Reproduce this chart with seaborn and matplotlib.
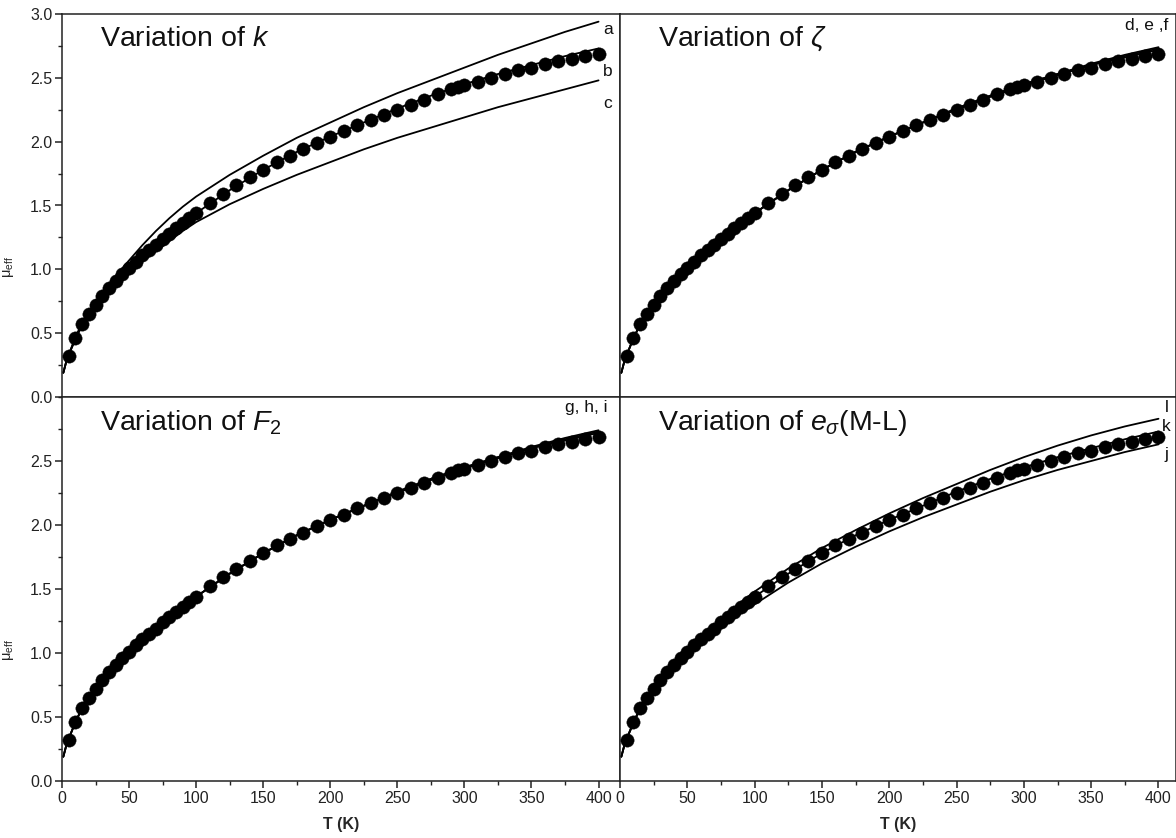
import numpy as np
import pandas as pd
import matplotlib
matplotlib.use("Agg")
import matplotlib.pyplot as plt
from matplotlib.ticker import MultipleLocator
import seaborn as sns

# Measured effective magnetic moment vs temperature
T_obs = [5, 10, 15, 20, 25, 30, 35, 40, 45, 50, 55, 60, 65, 70, 75, 80, 85, 90, 95, 100,
         110, 120, 130, 140, 150, 160, 170, 180, 190, 200, 210, 220, 230, 240, 250,
         260, 270, 280, 290, 295, 300, 310, 320, 330, 340, 350, 360, 370, 380, 390, 400]
mu_obs = [0.32, 0.46, 0.57, 0.65, 0.72, 0.79, 0.85, 0.91, 0.96, 1.01, 1.06, 1.11, 1.15, 1.19,
          1.24, 1.28, 1.32, 1.36, 1.40, 1.44, 1.52, 1.59, 1.66, 1.72, 1.78, 1.84, 1.89, 1.94,
          1.99, 2.04, 2.08, 2.13, 2.17, 2.21, 2.25, 2.29, 2.33, 2.37, 2.41, 2.43, 2.44, 2.47,
          2.50, 2.53, 2.56, 2.58, 2.61, 2.63, 2.65, 2.67, 2.69]

# Calculated curves
T_fit = [1, 3, 5, 10, 15, 20, 30, 40, 50, 60, 70, 80, 90, 100, 125, 150, 175, 200,
         225, 250, 275, 300, 325, 350, 375, 400]
fit_a = [0.19, 0.27, 0.33, 0.47, 0.58, 0.67, 0.82, 0.95, 1.07, 1.19, 1.30, 1.40, 1.49, 1.57,
         1.74, 1.89, 2.03, 2.15, 2.27, 2.38, 2.48, 2.58, 2.68, 2.77, 2.86, 2.94]
fit_b = [0.19, 0.27, 0.33, 0.46, 0.57, 0.65, 0.79, 0.91, 1.01, 1.11, 1.20, 1.28, 1.36, 1.44,
         1.62, 1.78, 1.92, 2.04, 2.15, 2.26, 2.36, 2.45, 2.53, 2.60, 2.67, 2.73]
fit_c = [0.19, 0.27, 0.33, 0.45, 0.56, 0.63, 0.77, 0.88, 0.97, 1.06, 1.14, 1.22, 1.30, 1.37,
         1.51, 1.63, 1.74, 1.84, 1.94, 2.03, 2.11, 2.19, 2.27, 2.34, 2.41, 2.48]
fit_d = [0.19, 0.27, 0.33, 0.46, 0.57, 0.65, 0.79, 0.91, 1.01, 1.11, 1.20, 1.28, 1.36, 1.44,
         1.62, 1.78, 1.92, 2.04, 2.15, 2.26, 2.36, 2.45, 2.53, 2.60, 2.67, 2.73]
fit_e = [0.19, 0.27, 0.33, 0.46, 0.57, 0.65, 0.79, 0.91, 1.01, 1.11, 1.20, 1.28, 1.36, 1.44,
         1.62, 1.78, 1.92, 2.04, 2.15, 2.26, 2.36, 2.45, 2.53, 2.61, 2.68, 2.74]
fit_f = [0.19, 0.27, 0.33, 0.46, 0.57, 0.65, 0.79, 0.91, 1.01, 1.11, 1.20, 1.28, 1.36, 1.44,
         1.62, 1.78, 1.92, 2.04, 2.15, 2.25, 2.35, 2.44, 2.52, 2.60, 2.66, 2.72]
fit_g = [0.19, 0.27, 0.33, 0.46, 0.57, 0.65, 0.79, 0.91, 1.01, 1.11, 1.20, 1.28, 1.36, 1.44,
         1.62, 1.78, 1.92, 2.04, 2.15, 2.26, 2.36, 2.45, 2.53, 2.60, 2.67, 2.73]
fit_h = [0.19, 0.27, 0.33, 0.46, 0.57, 0.65, 0.79, 0.91, 1.01, 1.11, 1.20, 1.28, 1.36, 1.44,
         1.62, 1.78, 1.92, 2.04, 2.15, 2.26, 2.36, 2.45, 2.53, 2.61, 2.68, 2.74]
fit_i = [0.19, 0.27, 0.33, 0.46, 0.57, 0.65, 0.79, 0.91, 1.01, 1.11, 1.20, 1.28, 1.36, 1.44,
         1.62, 1.78, 1.92, 2.04, 2.15, 2.25, 2.35, 2.44, 2.52, 2.60, 2.66, 2.72]
fit_j = [0.19, 0.27, 0.33, 0.45, 0.56, 0.64, 0.77, 0.88, 0.98, 1.07, 1.15, 1.23, 1.31, 1.38,
         1.55, 1.70, 1.83, 1.95, 2.06, 2.16, 2.26, 2.35, 2.43, 2.50, 2.57, 2.63]
fit_k = [0.19, 0.27, 0.33, 0.46, 0.57, 0.65, 0.79, 0.91, 1.01, 1.11, 1.20, 1.28, 1.36, 1.44,
         1.62, 1.78, 1.92, 2.04, 2.15, 2.26, 2.36, 2.45, 2.53, 2.60, 2.67, 2.73]
fit_l = [0.19, 0.27, 0.33, 0.46, 0.57, 0.66, 0.80, 0.93, 1.03, 1.13, 1.22, 1.31, 1.40, 1.48,
         1.66, 1.82, 1.96, 2.09, 2.21, 2.32, 2.43, 2.53, 2.62, 2.70, 2.77, 2.83]

titles = ["Variation of $k$", "Variation of $\\zeta$",
          "Variation of $F_2$", "Variation of $e_{\\sigma}$(M-L)"]
curve_sets = [[fit_a, fit_b, fit_c], [fit_d, fit_e, fit_f],
              [fit_g, fit_h, fit_i], [fit_j, fit_k, fit_l]]
# curve tags: (text, x, y)
tags = [[("a", 407, 2.88), ("b", 407, 2.55), ("c", 407, 2.30)],
        [("d, e ,f", 391, 2.91)],
        [("g, h, i", 391, 2.92)],
        [("l", 406, 2.92), ("k", 406, 2.77), ("j", 406, 2.55)]]

sns.set_style("ticks")
plt.rcParams["font.family"] = ["Liberation Sans", "DejaVu Sans"]
plt.rcParams["mathtext.fontset"] = "custom"
plt.rcParams["mathtext.rm"] = "Liberation Sans"
plt.rcParams["mathtext.it"] = "Liberation Sans:italic"
plt.rcParams["mathtext.bf"] = "Liberation Sans:bold"

W, H = 1176, 838
fig = plt.figure(figsize=(W / 100, H / 100), dpi=100)

x0, xm, x1 = 62, 620, 1176
y0, ym, y1 = 14, 397, 781
boxes = [(x0, y0, xm, ym), (xm, y0, x1, ym), (x0, ym, xm, y1), (xm, ym, x1, y1)]

obs = pd.DataFrame({"T": T_obs, "mu": mu_obs})

for idx, (l, t, r, b) in enumerate(boxes):
    ax = fig.add_axes([l / W, 1 - b / H, (r - l) / W, (b - t) / H])
    for curve in curve_sets[idx]:
        df = pd.DataFrame({"T": T_fit, "mu": curve})
        sns.lineplot(data=df, x="T", y="mu", ax=ax, color="black", linewidth=1.3,
                     estimator=None, sort=False, zorder=2)
    sns.scatterplot(data=obs, x="T", y="mu", ax=ax, color="black", s=92,
                    edgecolor="black", linewidth=0.3, zorder=3)

    xmax = 416 if idx in (0, 2) else 413
    ax.set_xlim(0, xmax)
    ax.set_ylim(0, 3.0)
    ax.set_xlabel("")
    ax.set_ylabel("")

    for sp in ax.spines.values():
        sp.set_linewidth(1.1)
        sp.set_color("#222222")

    left_col = idx in (0, 2)
    bottom_row = idx in (2, 3)

    ax.xaxis.set_major_locator(MultipleLocator(50))
    ax.xaxis.set_minor_locator(MultipleLocator(25))
    ax.yaxis.set_major_locator(MultipleLocator(0.5))
    ax.yaxis.set_minor_locator(MultipleLocator(0.25))
    ax.tick_params(axis="both", which="major", direction="out", length=5, width=1.1,
                   labelsize=11.5, pad=2, colors="#222222")
    ax.tick_params(axis="both", which="minor", direction="out", length=3, width=1.0,
                   colors="#222222")
    ax.tick_params(top=False, right=False, which="both")

    if bottom_row:
        ax.set_xticks([0, 50, 100, 150, 200, 250, 300, 350, 400])
        ax.set_xlabel("T (K)", fontsize=11.5, fontweight="bold", labelpad=8)
    else:
        ax.tick_params(axis="x", which="both", bottom=False, labelbottom=False)

    if left_col:
        if idx == 0:
            ax.set_yticks([0.0, 0.5, 1.0, 1.5, 2.0, 2.5, 3.0])
        else:
            ax.set_yticks([0.0, 0.5, 1.0, 1.5, 2.0, 2.5])
        ax.set_yticklabels([f"{v:.1f}" for v in ax.get_yticks()])
        ax.set_ylabel("μ$_{\\mathrm{eff}}$", fontsize=10.5)
        ax.yaxis.set_label_coords(-0.083, 0.34)
    else:
        ax.tick_params(axis="y", which="both", left=False, labelleft=False)

    ax.text(0.068, 0.935 if idx < 2 else 0.932, titles[idx], transform=ax.transAxes,
            fontsize=20.5, va="center", ha="left", color="#111111")
    for text, tx, ty in tags[idx]:
        ax.text(tx, ty, text, fontsize=12.5, ha="center", va="center", color="#111111")

fig.savefig("out.png", dpi=100)
